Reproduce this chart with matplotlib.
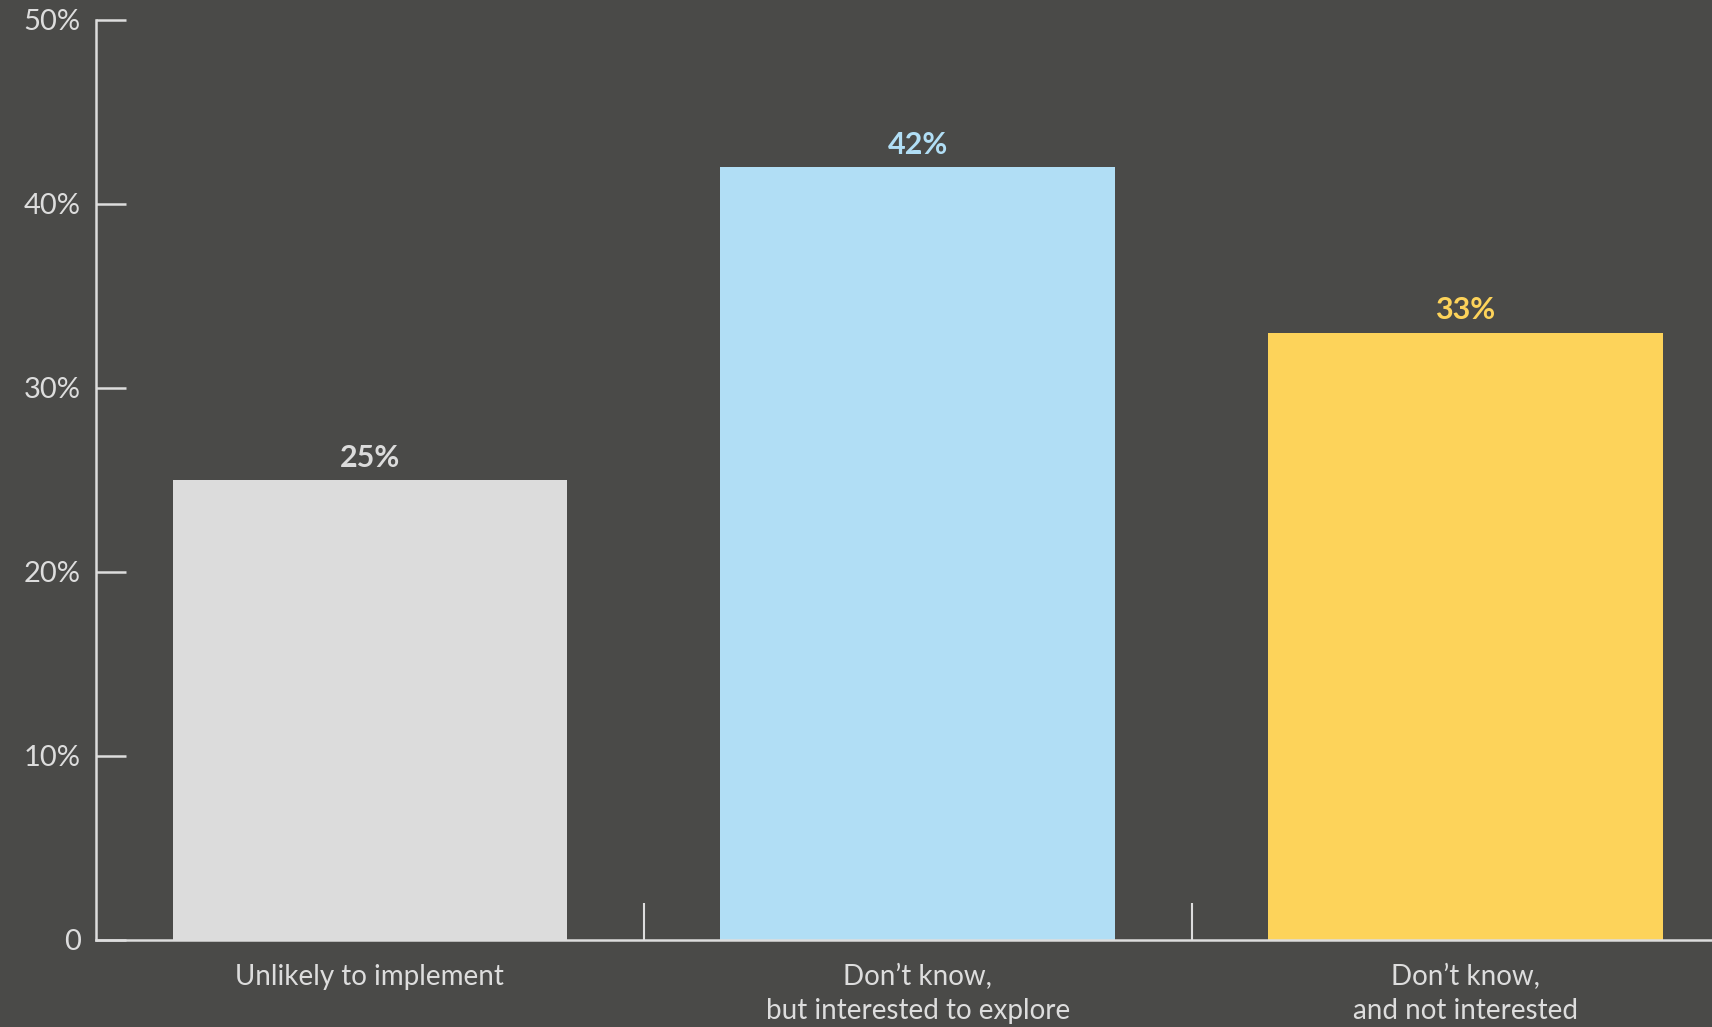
"""
Interest in implementation - bar chart on a dark background
"""
import matplotlib
matplotlib.use('Agg')
import matplotlib.pyplot as plt
from matplotlib.ticker import FixedLocator, FuncFormatter

categories = ['Unlikely to implement',
              'Don\u2019t know,\nbut interested to explore',
              'Don\u2019t know,\nand not interested']
shares = [25, 42, 33]
y_ticks = [0, 10, 20, 30, 40, 50]

BG = '#4a4a48'
AXIS = '#dddddd'
bar_colors = ['#dcdcdc', '#b1def5', '#fdd35a']

plt.rcParams['font.family'] = ['Lato', 'DejaVu Sans']

fig = plt.figure(figsize=(17.12, 10.27), dpi=100, facecolor=BG)
ax = fig.add_axes([96 / 1712, 87 / 1027, 1 - 96 / 1712, (940 - 20) / 1027])
ax.set_facecolor(BG)

x = range(len(categories))
ax.bar(x, shares, width=0.72, color=bar_colors, zorder=2)

# value labels above each bar, in the bar's colour
for i, v in enumerate(shares):
    ax.annotate(f'{v}%', (i, v), xytext=(0, 6), textcoords='offset points',
                ha='center', va='bottom', fontsize=22, fontweight='bold',
                color=bar_colors[i])

ax.set_xlim(-0.5, 2.45)
ax.set_ylim(0, 50)

for side in ['top', 'right']:
    ax.spines[side].set_visible(False)
for side in ['left', 'bottom']:
    ax.spines[side].set_color(AXIS)
    ax.spines[side].set_linewidth(1.8)
    ax.spines[side].set_zorder(3)

ax.yaxis.set_major_locator(FixedLocator(y_ticks))
ax.yaxis.set_major_formatter(FuncFormatter(lambda v, p: '0' if v == 0 else f'{v:.0f}%'))
ax.tick_params(axis='y', direction='in', length=21.6, width=1.8, color=AXIS,
               labelcolor=AXIS, labelsize=21, pad=11)

# category labels under bars, separators between them
ax.set_xticks(list(x))
ax.set_xticklabels(categories, fontsize=20, color=AXIS, linespacing=1.4)
ax.set_xticks([0.5, 1.5], minor=True)
ax.tick_params(axis='x', which='major', length=0, pad=17)
ax.tick_params(axis='x', which='minor', direction='in', length=27, width=1.5,
               color=AXIS)

fig.savefig('out.png', dpi=100, facecolor=BG)
